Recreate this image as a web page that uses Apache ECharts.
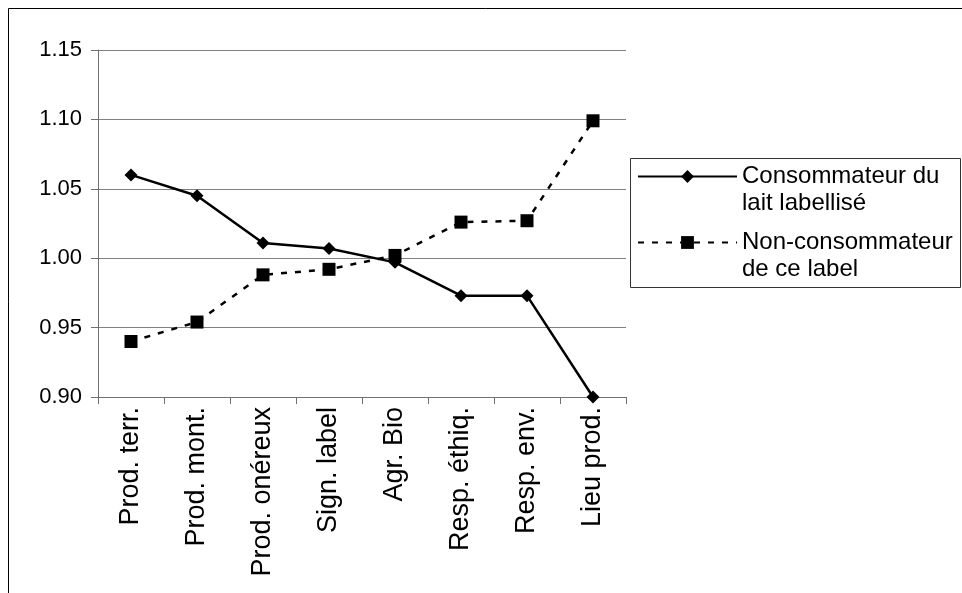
<!DOCTYPE html>
<html>
<head>
<meta charset="utf-8">
<script src="https://cdn.jsdelivr.net/npm/echarts@6/dist/echarts.min.js"></script>
<style>
  html, body { margin: 0; padding: 0; background: #fff; }
  #chart { width: 962px; height: 593px; }
</style>
</head>
<body>
<div id="chart"></div>
<script>
// Categories (motives) along the horizontal axis
const categories = ['Prod. terr.', 'Prod. mont.', 'Prod. onéreux', 'Sign. label', 'Agr. Bio', 'Resp. éthiq.', 'Resp. env.', 'Lieu prod.'];

// Scores per group
const consommateur = [1.060, 1.045, 1.011, 1.007, 0.997, 0.973, 0.973, 0.900];
const nonConsommateur = [0.940, 0.954, 0.988, 0.992, 1.002, 1.026, 1.027, 1.099];

// Value axis range
const yMin = 0.90;
const yMax = 1.15;
const yStep = 0.05;

// Series names as shown in the legend
const nameConso = 'Consommateur du\nlait labellisé';
const nameNonConso = 'Non-consommateur\nde ce label';

const FONT = 'Liberation Sans, Arial, sans-serif';
const LEGEND_LINE = 27;

const chart = echarts.init(document.getElementById('chart'), null, { renderer: 'canvas' });

chart.setOption({
  animation: false,
  backgroundColor: '#fff',
  grid: { left: 98, top: 50, width: 528, height: 347, containLabel: false },
  graphic: [
    { type: 'rect', z: 0, silent: true,
      shape: { x: 8.5, y: 8.5, width: 1200, height: 900 },
      style: { fill: 'none', stroke: '#000', lineWidth: 1 } },
    { type: 'rect', z: 0, silent: true,
      shape: { x: 630.5, y: 158.5, width: 330, height: 129 },
      style: { fill: 'none', stroke: '#333', lineWidth: 1 } }
  ],
  legend: {
    orient: 'vertical',
    left: 637,
    top: 136,
    padding: 0,
    itemWidth: 99,
    itemHeight: 16,
    itemGap: -15,
    selectedMode: false,
    data: [nameConso, nameNonConso],
    // a leading blank line keeps the symbol level with the first text line
    formatter: name => '\n' + name,
    textStyle: {
      fontFamily: FONT,
      fontSize: 24,
      color: '#000',
      lineHeight: LEGEND_LINE
    }
  },
  xAxis: {
    type: 'category',
    data: categories,
    boundaryGap: true,
    axisLine: { show: true, lineStyle: { color: '#707070', width: 1 } },
    axisTick: { show: true, length: 7, alignWithLabel: false, lineStyle: { color: '#707070' } },
    axisLabel: {
      rotate: 90,
      margin: 10,
      interval: 0,
      fontFamily: FONT,
      fontSize: 27,
      color: '#000'
    },
    splitLine: { show: false }
  },
  yAxis: {
    type: 'value',
    min: yMin,
    max: yMax,
    interval: yStep,
    axisLine: { show: true, lineStyle: { color: '#707070', width: 1 } },
    axisTick: { show: true, length: 7, lineStyle: { color: '#707070' } },
    axisLabel: {
      margin: 16,
      fontFamily: FONT,
      fontSize: 22,
      color: '#000',
      formatter: v => v.toFixed(2)
    },
    splitLine: { show: true, lineStyle: { color: '#808080', width: 1 } }
  },
  series: [
    {
      name: nameConso,
      type: 'line',
      data: consommateur,
      symbol: 'diamond',
      symbolSize: 13,
      color: '#000',
      itemStyle: { color: '#000' },
      lineStyle: { color: '#000', width: 2.5, type: 'solid' },
      z: 3
    },
    {
      name: nameNonConso,
      type: 'line',
      data: nonConsommateur,
      symbol: 'rect',
      symbolSize: 13,
      color: '#000',
      itemStyle: { color: '#000' },
      lineStyle: { color: '#000', width: 2.5, type: [6, 8] },
      z: 2
    }
  ]
});
</script>
</body>
</html>
